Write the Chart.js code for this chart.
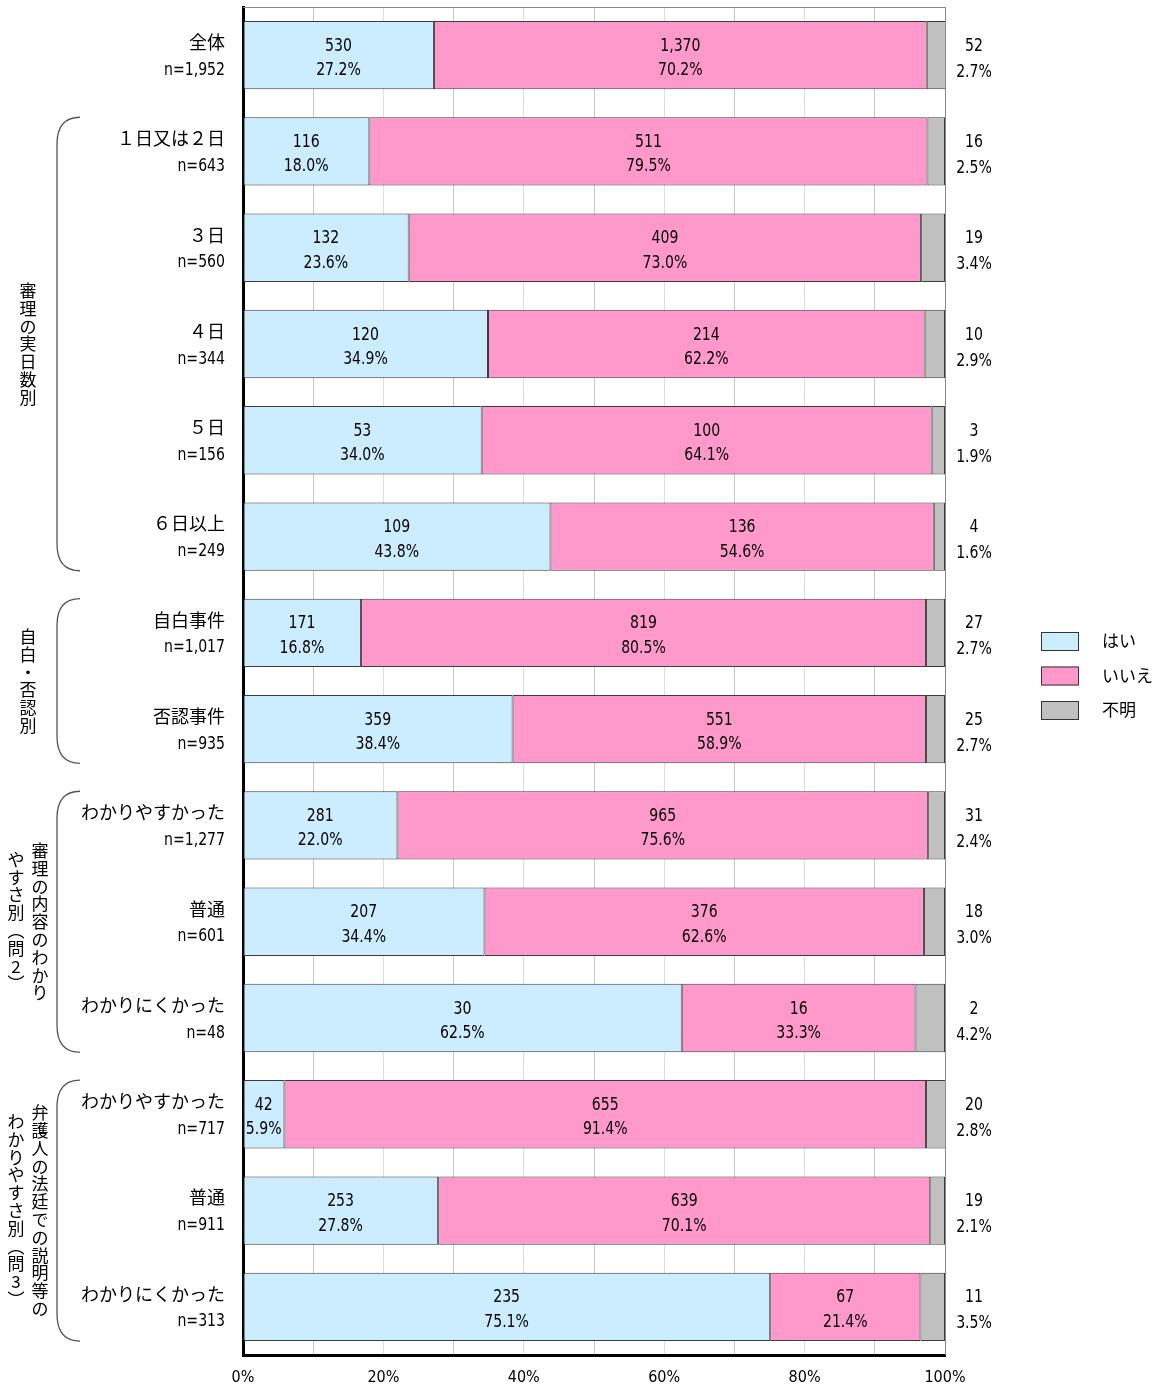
<!DOCTYPE html>
<html>
<head>
<meta charset="utf-8">
<script src="https://cdn.jsdelivr.net/npm/chart.js@4/dist/chart.umd.min.js"></script>
<style>
  html, body { margin: 0; padding: 0; background: #fff; }
  #c { display: block; }
</style>
</head>
<body>
<canvas id="c" width="1157" height="1389"></canvas>
<script>
// Row labels and sample sizes
const categories = ['全体', '１日又は２日', '３日', '４日', '５日', '６日以上', '自白事件', '否認事件',
  'わかりやすかった', '普通', 'わかりにくかった', 'わかりやすかった', '普通', 'わかりにくかった'];
const sampleSizes = ['n=1,952', 'n=643', 'n=560', 'n=344', 'n=156', 'n=249', 'n=1,017', 'n=935',
  'n=1,277', 'n=601', 'n=48', 'n=717', 'n=911', 'n=313'];

// Answer counts and shares (%)
const yesCounts = [530, 116, 132, 120, 53, 109, 171, 359, 281, 207, 30, 42, 253, 235];
const yesPct = [27.2, 18.0, 23.6, 34.9, 34.0, 43.8, 16.8, 38.4, 22.0, 34.4, 62.5, 5.9, 27.8, 75.1];
const noCounts = [1370, 511, 409, 214, 100, 136, 819, 551, 965, 376, 16, 655, 639, 67];
const noPct = [70.2, 79.5, 73.0, 62.2, 64.1, 54.6, 80.5, 58.9, 75.6, 62.6, 33.3, 91.4, 70.1, 21.4];
const unknownCounts = [52, 16, 19, 10, 3, 4, 27, 25, 31, 18, 2, 20, 19, 11];
const unknownPct = [2.7, 2.5, 3.4, 2.9, 1.9, 1.6, 2.7, 2.7, 2.4, 3.0, 4.2, 2.8, 2.1, 3.5];

const seriesNames = ['はい', 'いいえ', '不明'];
const seriesColors = ['#CCECFF', '#FF99CC', '#C0C0C0'];
const xTickLabels = [0, 20, 40, 60, 80, 100];

// Row groups with their vertical captions (columns read right to left)
const groupFirst = [1, 6, 8, 11];
const groupLast = [5, 7, 10, 13];
const groupCaptions = [
  ['審理の実日数別'],
  ['自白・否認別'],
  ['審理の内容のわかり', 'やすさ別(問2)'],
  ['弁護人の法廷での説明等の', 'わかりやすさ別(問3)']
];

const JP = "'Noto Sans CJK JP', 'Noto Sans', sans-serif";
const NUM = "'DejaVu Sans Condensed', 'Noto Sans CJK JP', sans-serif";
const NUM_FONT = '17px ' + NUM;
const SQUEEZE = 0.92;   // horizontal squeeze for the number labels
Chart.defaults.font.family = JP;
Chart.defaults.color = '#000';

const fmt = n => n.toLocaleString('en-US');

function barGeom(chart, i) {
  const bar = chart.getDatasetMeta(0).data[i];
  return { y: bar.y, h: bar.height };
}

// draws a narrow number label; x is the anchor for the current textAlign
function narrowText(ctx, text, x, y) {
  ctx.save();
  ctx.translate(x, y);
  ctx.scale(SQUEEZE, 1);
  ctx.fillText(text, 0, 0);
  ctx.restore();
}

const framePlugin = {
  id: 'frame',
  beforeDatasetsDraw(chart) {
    const { ctx, chartArea: a } = chart;
    ctx.save();
    ctx.strokeStyle = '#8a8a8a';
    ctx.lineWidth = 1;
    ctx.beginPath();
    ctx.moveTo(a.left, a.top + 0.5);
    ctx.lineTo(a.right + 0.5, a.top + 0.5);
    ctx.lineTo(a.right + 0.5, a.bottom);
    ctx.stroke();
    ctx.restore();
  }
};

const labelPlugin = {
  id: 'labels',
  afterDatasetsDraw(chart) {
    const { ctx } = chart;
    const xs = chart.scales.x;
    ctx.save();
    ctx.fillStyle = '#000';
    ctx.textAlign = 'center';
    ctx.textBaseline = 'alphabetic';
    ctx.font = NUM_FONT;
    categories.forEach((_, i) => {
      const { y } = barGeom(chart, i);
      // counts and shares inside the はい / いいえ segments
      const segs = [
        [0, yesPct[i], yesCounts[i], yesPct[i]],
        [yesPct[i], yesPct[i] + noPct[i], noCounts[i], noPct[i]]
      ];
      segs.forEach(([a, b, cnt, pct]) => {
        const cx = (xs.getPixelForValue(a) + xs.getPixelForValue(Math.min(b, 100))) / 2;
        narrowText(ctx, fmt(cnt), cx, y - 4.5);
        narrowText(ctx, pct.toFixed(1) + '%', cx, y + 20);
      });
      // 不明 is labelled to the right of the plot
      const rx = chart.chartArea.right + 29;
      narrowText(ctx, fmt(unknownCounts[i]), rx, y - 4.5);
      narrowText(ctx, unknownPct[i].toFixed(1) + '%', rx, y + 21.5);
    });
    ctx.restore();
  },
  afterDraw(chart) {
    const { ctx } = chart;
    ctx.save();
    ctx.fillStyle = '#000';
    // category names and sample sizes
    ctx.textAlign = 'right';
    const lx = chart.chartArea.left - 18;
    categories.forEach((name, i) => {
      const { y } = barGeom(chart, i);
      ctx.textBaseline = 'middle';
      ctx.font = '18px ' + JP;
      ctx.fillText(name, lx, y - 13);
      ctx.textBaseline = 'alphabetic';
      ctx.font = NUM_FONT;
      narrowText(ctx, sampleSizes[i], lx, y + 19.5);
    });

    // group brackets and vertical captions
    ctx.textBaseline = 'middle';
    groupFirst.forEach((f, g) => {
      const top = barGeom(chart, f);
      const bot = barGeom(chart, groupLast[g]);
      const y0 = top.y - top.h / 2;
      const y1 = bot.y + bot.h / 2;
      const xr = 80, xl = 57, r = 27;
      ctx.strokeStyle = '#555';
      ctx.lineWidth = 1.3;
      ctx.beginPath();
      ctx.moveTo(xr, y0);
      ctx.quadraticCurveTo(xl, y0, xl, y0 + r);
      ctx.lineTo(xl, y1 - r);
      ctx.quadraticCurveTo(xl, y1, xr, y1);
      ctx.stroke();

      const cols = groupCaptions[g];
      const mid = (y0 + y1) / 2;
      const colX = cols.length === 1 ? [28] : [40, 16];
      const pitch = 17.8;
      ctx.font = '17px ' + JP;
      ctx.textAlign = 'center';
      cols.forEach((txt, ci) => {
        const chars = Array.from(txt).map(c => c === '(' ? '︵' : c === ')' ? '︶' : c);
        const start = mid - (chars.length * pitch) / 2 + pitch / 2;
        chars.forEach((c, k) => ctx.fillText(c, colX[ci], start + k * pitch));
      });
    });

    // legend
    ctx.textAlign = 'left';
    ctx.font = '17px ' + JP;
    seriesNames.forEach((name, k) => {
      const by = 632 + k * 34.5;
      ctx.fillStyle = seriesColors[k];
      ctx.fillRect(1041, by, 38, 19);
      ctx.strokeStyle = '#333';
      ctx.lineWidth = 1;
      ctx.strokeRect(1041.5, by + 0.5, 37, 18);
      ctx.fillStyle = '#000';
      ctx.fillText(name, 1102, by + 9);
    });
    ctx.restore();
  }
};

new Chart(document.getElementById('c'), {
  type: 'bar',
  data: {
    labels: categories,
    datasets: [
      { label: seriesNames[0], data: yesPct, backgroundColor: seriesColors[0] },
      { label: seriesNames[1], data: noPct, backgroundColor: seriesColors[1] },
      { label: seriesNames[2], data: unknownPct, backgroundColor: seriesColors[2] }
    ]
  },
  options: {
    indexAxis: 'y',
    responsive: false,
    animation: false,
    layout: { padding: { left: 243, right: 212, top: 7, bottom: 0 } },
    plugins: { legend: { display: false }, tooltip: { enabled: false } },
    datasets: {
      bar: {
        categoryPercentage: 1,
        barPercentage: 0.71,
        borderWidth: 1,
        borderColor: '#3c3c3c',
        borderSkipped: false
      }
    },
    scales: {
      x: {
        stacked: true,
        min: 0,
        max: 100,
        ticks: {
          stepSize: 10,
          autoSkip: false,
          maxRotation: 0,
          padding: 13,
          font: { size: 16, family: NUM },
          color: '#000',
          callback: v => (xTickLabels.includes(v) ? v + '%' : '')
        },
        grid: {
          drawTicks: false,
          color: c => {
            const v = c.tick && c.tick.value;
            if (v === 0) return 'rgba(0,0,0,0)';
            if (v === 100) return '#8a8a8a';
            return v % 20 === 0 ? '#dedede' : '#c8c8c8';
          }
        },
        border: { color: '#000', width: 3 },
        afterFit: s => { s.height = 34; }
      },
      y: {
        stacked: true,
        ticks: { display: false },
        grid: { display: false },
        border: { color: '#000', width: 3 },
        afterFit: s => { s.width = 0; }
      }
    }
  },
  plugins: [framePlugin, labelPlugin]
});
</script>
</body>
</html>
